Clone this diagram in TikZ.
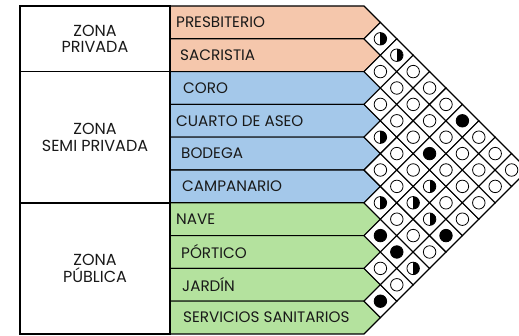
\documentclass[tikz,border=0pt]{standalone}
\usepackage{fontspec}
\setmainfont{Poppins}
\usetikzlibrary{shapes.geometric}
\definecolor{peach}{RGB}{245,199,172}
\definecolor{skyb}{RGB}{164,200,234}
\definecolor{leaf}{RGB}{180,226,158}
\definecolor{ink}{RGB}{25,25,25}
\begin{document}
\begin{tikzpicture}[x=1pt,y=-1pt,
  rowtxt/.style={anchor=west,inner sep=0,text=ink,font=\fontsize{15.2}{17}\selectfont},
  zonetxt/.style={align=center,inner sep=0,text=ink,font=\fontsize{16}{16.5}\selectfont},
  cell/.style={diamond,draw=black,line width=1.1pt,minimum width=32.8pt,minimum height=32.8pt,inner sep=0,outer sep=0,fill=white},
  circ/.style={circle,draw=black,line width=0.8pt,minimum size=12.5pt,inner sep=0,fill=white},
  emptyc/.style={circ},
  fullc/.style={circ,fill=black},
  halfc/.style={circ,path picture={\fill[black] (path picture bounding box.north) rectangle (path picture bounding box.south east);}},
  rowline/.style={draw=black,line width=1.1pt},
  frame/.style={draw=black,line width=1.6pt}]
\path[use as bounding box,clip] (0,0) rectangle (519,336);
\def\H{32.8}
\def\T{6}
\def\X{364}
% rows
\foreach \i/\name/\col/\dx in {1/PRESBITERIO/peach/6,2/SACRISTIA/peach/10,3/CORO/skyb/13,4/CUARTO DE ASEO/skyb/6,5/BODEGA/skyb/11,6/CAMPANARIO/skyb/12,7/NAVE/leaf/6,8/PÓRTICO/leaf/11,9/JARDÍN/leaf/12,10/SERVICIOS SANITARIOS/leaf/13}{
  \pgfmathsetmacro\top{\T+(\i-1)*\H}
  \pgfmathsetmacro\bot{\T+\i*\H}
  \pgfmathsetmacro\mid{\T+(\i-0.5)*\H}
  \pgfmathsetmacro\tip{\X+\H/2}
  \path[fill=\col,rowline] (170,\top) -- (\X,\top) -- (\tip,\mid) -- (\X,\bot) -- (170,\bot) -- cycle;
  \node[rowtxt] (r\i) at (170+\dx,\mid) {\name};
}
% matrix cells
\foreach \i/\j/\t in {1/2/halfc,2/3/emptyc,3/4/emptyc,4/5/halfc,5/6/emptyc,6/7/halfc,7/8/fullc,8/9/emptyc,9/10/fullc,
  1/3/halfc,2/4/emptyc,3/5/emptyc,4/6/emptyc,5/7/emptyc,6/8/emptyc,7/9/fullc,8/10/emptyc,
  1/4/emptyc,2/5/emptyc,3/6/emptyc,4/7/emptyc,5/8/halfc,6/9/emptyc,7/10/halfc,
  1/5/emptyc,2/6/emptyc,3/7/fullc,4/8/halfc,5/9/halfc,6/10/emptyc,
  1/6/emptyc,2/7/emptyc,3/8/emptyc,4/9/emptyc,5/10/fullc,
  1/7/fullc,2/8/emptyc,3/9/emptyc,4/10/emptyc,
  1/8/emptyc,2/9/emptyc,3/10/emptyc,
  1/9/emptyc,2/10/emptyc,
  1/10/emptyc}{
  \pgfmathsetmacro\cx{\X+(\j-\i)*\H/2}
  \pgfmathsetmacro\cy{\T+((\i+\j)/2-0.5)*\H}
  \node[cell] (c-\i-\j) at (\cx,\cy) {};
  \node[\t] (s-\i-\j) at (c-\i-\j.center) {};
}
% zone column
\draw[frame] (20,\T) rectangle (170,334);
\pgfmathsetmacro\za{\T+2*\H}
\pgfmathsetmacro\zb{\T+6*\H}
\coordinate (za1) at (20,\za); \coordinate (za2) at (170,\za);
\coordinate (zb1) at (20,\zb); \coordinate (zb2) at (170,\zb);
\draw[frame] (za1) -- (za2);
\draw[frame] (zb1) -- (zb2);
\node[zonetxt] (z1) at (95,{\T+1*\H}) {ZONA\\PRIVADA};
\node[zonetxt] (z2) at (95,{\T+4*\H}) {ZONA\\SEMI PRIVADA};
\node[zonetxt] (z3) at (95,{\T+8*\H}) {ZONA\\PÚBLICA};
\end{tikzpicture}
\end{document}
